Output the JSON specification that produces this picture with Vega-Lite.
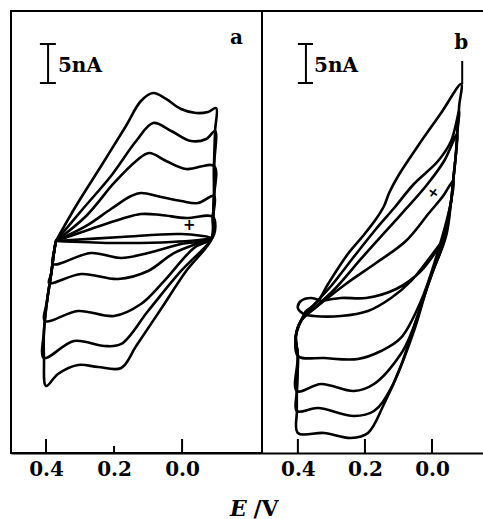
{
  "$schema": "https://vega.github.io/schema/vega-lite/v6.json",
  "padding": {"left": 10, "top": 10, "right": 0, "bottom": 0},
  "background": "white",
  "spacing": 0,
  "bounds": "flush",
  "config": {
    "view": {"stroke": "black", "strokeWidth": 2},
    "axis": {
      "grid": false, "ticks": false, "tickSize": 0, "labelPadding": 6,
      "labelFont": "DejaVu Serif", "labelFontWeight": "bold", "labelFontSize": 20, "labelColor": "black",
      "domainColor": "black", "domainWidth": 2,
      "titleFont": "DejaVu Serif", "titleFontWeight": "bold", "titleFontSize": 22, "titleColor": "black"
    }
  },
  "datasets": {
    "curvesA": [
      {"c":1,"o":1,"E":0.371,"I":26.92},{"c":1,"o":2,"E":0.312,"I":31.41},{"c":1,"o":3,"E":0.238,"I":36.54},{"c":1,"o":4,"E":0.165,"I":41.67},{"c":1,"o":5,"E":0.121,"I":44.87},{"c":1,"o":6,"E":0.085,"I":45.90},{"c":1,"o":7,"E":0.047,"I":45.13},{"c":1,"o":8,"E":0.003,"I":43.85},{"c":1,"o":9,"E":-0.041,"I":43.33},{"c":1,"o":10,"E":-0.076,"I":43.46},{"c":1,"o":11,"E":-0.100,"I":43.97},{"c":1,"o":12,"E":-0.097,"I":41.03},{"c":1,"o":13,"E":-0.094,"I":36.54},{"c":1,"o":14,"E":-0.094,"I":32.69},{"c":1,"o":15,"E":-0.091,"I":30.00},{"c":1,"o":16,"E":-0.088,"I":27.31},{"c":1,"o":17,"E":-0.012,"I":23.08},{"c":1,"o":18,"E":0.062,"I":18.21},{"c":1,"o":19,"E":0.135,"I":13.46},{"c":1,"o":20,"E":0.179,"I":10.64},{"c":1,"o":21,"E":0.247,"I":10.77},{"c":1,"o":22,"E":0.306,"I":11.03},{"c":1,"o":23,"E":0.365,"I":9.87},{"c":1,"o":24,"E":0.400,"I":8.33},{"c":1,"o":25,"E":0.406,"I":11.92},{"c":1,"o":26,"E":0.406,"I":15.38},{"c":1,"o":27,"E":0.397,"I":19.23},{"c":1,"o":28,"E":0.385,"I":22.69},{"c":1,"o":29,"E":0.376,"I":25.64},{"c":1,"o":30,"E":0.371,"I":26.92},
      {"c":2,"o":1,"E":0.371,"I":26.92},{"c":2,"o":2,"E":0.297,"I":30.77},{"c":2,"o":3,"E":0.209,"I":35.26},{"c":2,"o":4,"E":0.135,"I":39.74},{"c":2,"o":5,"E":0.085,"I":42.05},{"c":2,"o":6,"E":0.032,"I":41.03},{"c":2,"o":7,"E":-0.026,"I":39.74},{"c":2,"o":8,"E":-0.071,"I":40.00},{"c":2,"o":9,"E":-0.097,"I":41.03},{"c":2,"o":10,"E":-0.094,"I":36.54},{"c":2,"o":11,"E":-0.094,"I":32.69},{"c":2,"o":12,"E":-0.091,"I":30.00},{"c":2,"o":13,"E":-0.088,"I":27.31},{"c":2,"o":14,"E":-0.076,"I":26.54},{"c":2,"o":15,"E":0.003,"I":23.08},{"c":2,"o":16,"E":0.100,"I":17.95},{"c":2,"o":17,"E":0.179,"I":13.72},{"c":2,"o":18,"E":0.229,"I":13.46},{"c":2,"o":19,"E":0.318,"I":14.10},{"c":2,"o":20,"E":0.406,"I":11.92},{"c":2,"o":21,"E":0.406,"I":15.38},{"c":2,"o":22,"E":0.397,"I":19.23},{"c":2,"o":23,"E":0.385,"I":22.69},{"c":2,"o":24,"E":0.376,"I":25.64},{"c":2,"o":25,"E":0.371,"I":26.92},
      {"c":3,"o":1,"E":0.371,"I":26.92},{"c":3,"o":2,"E":0.282,"I":30.13},{"c":3,"o":3,"E":0.200,"I":34.36},{"c":3,"o":4,"E":0.135,"I":37.18},{"c":3,"o":5,"E":0.097,"I":38.21},{"c":3,"o":6,"E":0.047,"I":37.18},{"c":3,"o":7,"E":-0.012,"I":36.15},{"c":3,"o":8,"E":-0.094,"I":36.54},{"c":3,"o":9,"E":-0.094,"I":32.69},{"c":3,"o":10,"E":-0.091,"I":30.00},{"c":3,"o":11,"E":-0.088,"I":27.31},{"c":3,"o":12,"E":-0.035,"I":26.03},{"c":3,"o":13,"E":0.053,"I":21.79},{"c":3,"o":14,"E":0.121,"I":18.85},{"c":3,"o":15,"E":0.200,"I":17.31},{"c":3,"o":16,"E":0.306,"I":17.95},{"c":3,"o":17,"E":0.403,"I":16.67},{"c":3,"o":18,"E":0.397,"I":19.23},{"c":3,"o":19,"E":0.385,"I":22.69},{"c":3,"o":20,"E":0.376,"I":25.64},{"c":3,"o":21,"E":0.371,"I":26.92},
      {"c":4,"o":1,"E":0.371,"I":26.92},{"c":4,"o":2,"E":0.282,"I":28.85},{"c":4,"o":3,"E":0.209,"I":31.03},{"c":4,"o":4,"E":0.150,"I":32.69},{"c":4,"o":5,"E":0.121,"I":33.08},{"c":4,"o":6,"E":0.062,"I":32.56},{"c":4,"o":7,"E":0.003,"I":32.05},{"c":4,"o":8,"E":-0.047,"I":31.79},{"c":4,"o":9,"E":-0.094,"I":32.69},{"c":4,"o":10,"E":-0.091,"I":30.00},{"c":4,"o":11,"E":-0.088,"I":27.31},{"c":4,"o":12,"E":-0.065,"I":26.92},{"c":4,"o":13,"E":0.024,"I":25.38},{"c":4,"o":14,"E":0.100,"I":23.08},{"c":4,"o":15,"E":0.188,"I":22.05},{"c":4,"o":16,"E":0.297,"I":22.69},{"c":4,"o":17,"E":0.391,"I":21.54},{"c":4,"o":18,"E":0.385,"I":22.69},{"c":4,"o":19,"E":0.376,"I":25.64},{"c":4,"o":20,"E":0.371,"I":26.92},
      {"c":5,"o":1,"E":0.371,"I":26.92},{"c":5,"o":2,"E":0.268,"I":28.46},{"c":5,"o":3,"E":0.179,"I":29.74},{"c":5,"o":4,"E":0.121,"I":30.38},{"c":5,"o":5,"E":0.062,"I":30.26},{"c":5,"o":6,"E":-0.012,"I":29.87},{"c":5,"o":7,"E":-0.091,"I":30.00},{"c":5,"o":8,"E":-0.088,"I":27.31},{"c":5,"o":9,"E":0.003,"I":26.54},{"c":5,"o":10,"E":0.100,"I":25.38},{"c":5,"o":11,"E":0.179,"I":24.74},{"c":5,"o":12,"E":0.268,"I":25.38},{"c":5,"o":13,"E":0.379,"I":23.97},{"c":5,"o":14,"E":0.376,"I":25.64},{"c":5,"o":15,"E":0.371,"I":26.92},
      {"c":6,"o":1,"E":0.371,"I":26.92},{"c":6,"o":2,"E":0.179,"I":27.44},{"c":6,"o":3,"E":0.003,"I":27.82},{"c":6,"o":4,"E":-0.088,"I":27.31},{"c":6,"o":5,"E":0.032,"I":26.79},{"c":6,"o":6,"E":0.209,"I":26.67},{"c":6,"o":7,"E":0.371,"I":26.92}
    ],
    "curvesB": [
      {"c":1,"o":1,"E":0.376,"I":17.95},{"c":1,"o":2,"E":0.340,"I":19.23},{"c":1,"o":3,"E":0.310,"I":21.41},{"c":1,"o":4,"E":0.251,"I":25.26},{"c":1,"o":5,"E":0.206,"I":27.56},{"c":1,"o":6,"E":0.167,"I":29.74},{"c":1,"o":7,"E":0.143,"I":31.41},{"c":1,"o":8,"E":0.128,"I":33.08},{"c":1,"o":9,"E":0.101,"I":35.26},{"c":1,"o":10,"E":0.042,"I":39.10},{"c":1,"o":11,"E":-0.027,"I":43.33},{"c":1,"o":12,"E":-0.087,"I":47.05},{"c":1,"o":13,"E":-0.081,"I":44.23},{"c":1,"o":14,"E":-0.075,"I":40.64},{"c":1,"o":15,"E":-0.072,"I":38.46},{"c":1,"o":16,"E":-0.063,"I":34.62},{"c":1,"o":17,"E":-0.057,"I":32.05},{"c":1,"o":18,"E":-0.042,"I":27.56},{"c":1,"o":19,"E":0.003,"I":22.44},{"c":1,"o":20,"E":0.048,"I":16.67},{"c":1,"o":21,"E":0.093,"I":10.90},{"c":1,"o":22,"E":0.143,"I":6.03},{"c":1,"o":23,"E":0.191,"I":2.31},{"c":1,"o":24,"E":0.242,"I":1.67},{"c":1,"o":25,"E":0.322,"I":2.31},{"c":1,"o":26,"E":0.400,"I":2.31},{"c":1,"o":27,"E":0.403,"I":5.13},{"c":1,"o":28,"E":0.403,"I":7.69},{"c":1,"o":29,"E":0.400,"I":12.18},{"c":1,"o":30,"E":0.406,"I":14.74},{"c":1,"o":31,"E":0.391,"I":16.67},{"c":1,"o":32,"E":0.376,"I":17.95},
      {"c":2,"o":1,"E":0.376,"I":17.69},{"c":2,"o":2,"E":0.301,"I":21.15},{"c":2,"o":3,"E":0.236,"I":24.74},{"c":2,"o":4,"E":0.167,"I":28.46},{"c":2,"o":5,"E":0.113,"I":31.15},{"c":2,"o":6,"E":0.054,"I":34.23},{"c":2,"o":7,"E":-0.018,"I":37.18},{"c":2,"o":8,"E":-0.057,"I":39.74},{"c":2,"o":9,"E":-0.081,"I":43.59},{"c":2,"o":10,"E":-0.075,"I":40.64},{"c":2,"o":11,"E":-0.072,"I":38.46},{"c":2,"o":12,"E":-0.063,"I":34.62},{"c":2,"o":13,"E":-0.057,"I":32.05},{"c":2,"o":14,"E":-0.036,"I":26.92},{"c":2,"o":15,"E":0.009,"I":21.79},{"c":2,"o":16,"E":0.054,"I":15.38},{"c":2,"o":17,"E":0.122,"I":8.08},{"c":2,"o":18,"E":0.173,"I":5.13},{"c":2,"o":19,"E":0.233,"I":4.49},{"c":2,"o":20,"E":0.340,"I":5.51},{"c":2,"o":21,"E":0.403,"I":5.13},{"c":2,"o":22,"E":0.403,"I":7.69},{"c":2,"o":23,"E":0.400,"I":12.18},{"c":2,"o":24,"E":0.406,"I":14.74},{"c":2,"o":25,"E":0.391,"I":16.67},{"c":2,"o":26,"E":0.376,"I":17.69},
      {"c":3,"o":1,"E":0.361,"I":17.95},{"c":3,"o":2,"E":0.287,"I":20.90},{"c":3,"o":3,"E":0.212,"I":24.62},{"c":3,"o":4,"E":0.137,"I":28.21},{"c":3,"o":5,"E":0.078,"I":31.03},{"c":3,"o":6,"E":0.018,"I":33.97},{"c":3,"o":7,"E":-0.036,"I":37.18},{"c":3,"o":8,"E":-0.075,"I":40.64},{"c":3,"o":9,"E":-0.072,"I":38.46},{"c":3,"o":10,"E":-0.063,"I":34.62},{"c":3,"o":11,"E":-0.057,"I":32.05},{"c":3,"o":12,"E":-0.027,"I":26.28},{"c":3,"o":13,"E":0.018,"I":20.51},{"c":3,"o":14,"E":0.063,"I":15.00},{"c":3,"o":15,"E":0.093,"I":12.44},{"c":3,"o":16,"E":0.173,"I":8.59},{"c":3,"o":17,"E":0.233,"I":7.69},{"c":3,"o":18,"E":0.331,"I":8.59},{"c":3,"o":19,"E":0.403,"I":7.69},{"c":3,"o":20,"E":0.400,"I":12.18},{"c":3,"o":21,"E":0.406,"I":14.74},{"c":3,"o":22,"E":0.391,"I":16.67},{"c":3,"o":23,"E":0.361,"I":17.95},
      {"c":4,"o":1,"E":0.352,"I":18.21},{"c":4,"o":2,"E":0.257,"I":21.41},{"c":4,"o":3,"E":0.167,"I":24.10},{"c":4,"o":4,"E":0.078,"I":26.92},{"c":4,"o":5,"E":0.009,"I":30.51},{"c":4,"o":6,"E":-0.033,"I":32.69},{"c":4,"o":7,"E":-0.063,"I":34.62},{"c":4,"o":8,"E":-0.057,"I":32.05},{"c":4,"o":9,"E":-0.018,"I":25.64},{"c":4,"o":10,"E":0.033,"I":19.23},{"c":4,"o":11,"E":0.093,"I":14.49},{"c":4,"o":12,"E":0.152,"I":12.82},{"c":4,"o":13,"E":0.221,"I":11.79},{"c":4,"o":14,"E":0.322,"I":11.92},{"c":4,"o":15,"E":0.400,"I":12.18},{"c":4,"o":16,"E":0.406,"I":14.74},{"c":4,"o":17,"E":0.391,"I":16.67},{"c":4,"o":18,"E":0.352,"I":18.21},
      {"c":5,"o":1,"E":0.331,"I":19.23},{"c":5,"o":2,"E":0.361,"I":19.62},{"c":5,"o":3,"E":0.391,"I":19.23},{"c":5,"o":4,"E":0.400,"I":18.33},{"c":5,"o":5,"E":0.382,"I":17.56},{"c":5,"o":6,"E":0.352,"I":17.31},{"c":5,"o":7,"E":0.272,"I":17.31},{"c":5,"o":8,"E":0.191,"I":17.95},{"c":5,"o":9,"E":0.122,"I":19.62},{"c":5,"o":10,"E":0.063,"I":21.79},{"c":5,"o":11,"E":0.003,"I":25.00},{"c":5,"o":12,"E":-0.042,"I":27.56},{"c":5,"o":13,"E":0.033,"I":23.08},{"c":5,"o":14,"E":0.107,"I":20.77},{"c":5,"o":15,"E":0.197,"I":19.62},{"c":5,"o":16,"E":0.272,"I":19.62},{"c":5,"o":17,"E":0.331,"I":19.23}
    ]
  },
  "hconcat": [
    {
      "width": 251,
      "height": 442,
      "layer": [
        {
          "data": {"name": "curvesA"},
          "mark": {"type": "line", "color": "black", "strokeWidth": 2.6, "interpolate": "catmull-rom", "strokeJoin": "round"},
          "encoding": {
            "x": {"field": "E", "type": "quantitative",
                  "scale": {"domain": [-0.235, 0.503], "reverse": true, "nice": false, "zero": false},
                  "axis": {"values": [0.4, 0.2, 0], "format": ".1f", "title": "E", "titleX": 227, "titleY": 62, "titleBaseline": "alphabetic", "titleFontStyle": "italic", "titleAlign": "center", "titleAnchor": null}},
            "y": {"field": "I", "type": "quantitative", "scale": {"domain": [-0.256, 56.41], "nice": false, "zero": false}, "axis": null},
            "detail": {"field": "c"},
            "order": {"field": "o", "type": "quantitative"}
          }
        },
        {
          "data": {"values": [{"E": 0.4, "I": -0.256, "I2": 1.54}, {"E": 0.2, "I": -0.256, "I2": 0.64}, {"E": 0.0, "I": -0.256, "I2": 1.54}]},
          "mark": {"type": "rule", "color": "black", "strokeWidth": 2},
          "encoding": {"x": {"field": "E", "type": "quantitative"}, "y": {"field": "I", "type": "quantitative"}, "y2": {"field": "I2"}}
        },
        {
          "data": {"values": [{"E": 0.394, "I": 52.18, "I2": 47.18}]},
          "mark": {"type": "rule", "color": "black", "strokeWidth": 2},
          "encoding": {"x": {"field": "E", "type": "quantitative"}, "y": {"field": "I", "type": "quantitative"}, "y2": {"field": "I2"}}
        },
        {
          "data": {"values": [{"E": 0.418, "E2": 0.371, "I": 52.18}, {"E": 0.418, "E2": 0.371, "I": 47.18}]},
          "mark": {"type": "rule", "color": "black", "strokeWidth": 2},
          "encoding": {"x": {"field": "E", "type": "quantitative"}, "x2": {"field": "E2"}, "y": {"field": "I", "type": "quantitative"}}
        },
        {
          "data": {"values": [{"E": 0.365, "I": 49.42, "t": "5nA"}, {"E": -0.141, "I": 52.95, "t": "a"}]},
          "mark": {"type": "text", "align": "left", "baseline": "middle", "font": "DejaVu Serif", "fontWeight": "bold", "fontSize": 20, "color": "black"},
          "encoding": {"x": {"field": "E", "type": "quantitative"}, "y": {"field": "I", "type": "quantitative"}, "text": {"field": "t"}}
        },
        {
          "data": {"values": [{"E": -0.021, "I": 27.95, "t": "+"}]},
          "mark": {"type": "text", "align": "center", "baseline": "bottom", "font": "DejaVu Sans", "fontWeight": "bold", "fontSize": 15, "color": "black"},
          "encoding": {"x": {"field": "E", "type": "quantitative"}, "y": {"field": "I", "type": "quantitative"}, "text": {"field": "t"}}
        }
      ]
    },
    {
      "width": 222,
      "height": 442,
      "view": {"stroke": null},
      "layer": [
        {
          "data": {"name": "curvesB"},
          "mark": {"type": "line", "color": "black", "strokeWidth": 2.6, "interpolate": "catmull-rom", "strokeJoin": "round"},
          "encoding": {
            "x": {"field": "E", "type": "quantitative",
                  "scale": {"domain": [-0.155, 0.507], "reverse": true, "nice": false, "zero": false},
                  "axis": {"values": [0.4, 0.2, 0], "format": ".1f", "title": "/V", "titleX": -9, "titleY": 62, "titleBaseline": "alphabetic", "titleAlign": "left", "titleAnchor": null}},
            "y": {"field": "I", "type": "quantitative", "scale": {"domain": [-0.256, 56.41], "nice": false, "zero": false}, "axis": null},
            "detail": {"field": "c"},
            "order": {"field": "o", "type": "quantitative"}
          }
        },
        {
          "data": {"values": [{"I": 56.41}]},
          "mark": {"type": "rule", "color": "black", "strokeWidth": 2},
          "encoding": {"y": {"field": "I", "type": "quantitative"}}
        },
        {
          "data": {"values": [{"E": 0.4, "I": -0.256, "I2": 1.54}, {"E": 0.2, "I": -0.256, "I2": 1.54}, {"E": 0.0, "I": -0.256, "I2": 1.54}, {"E": 0.376, "I": 52.18, "I2": 47.18}, {"E": -0.090, "I": 50.0, "I2": 47.05}]},
          "mark": {"type": "rule", "color": "black", "strokeWidth": 2},
          "encoding": {"x": {"field": "E", "type": "quantitative"}, "y": {"field": "I", "type": "quantitative"}, "y2": {"field": "I2"}}
        },
        {
          "data": {"values": [{"E": 0.400, "E2": 0.355, "I": 52.18}, {"E": 0.400, "E2": 0.355, "I": 47.18}]},
          "mark": {"type": "rule", "color": "black", "strokeWidth": 2},
          "encoding": {"x": {"field": "E", "type": "quantitative"}, "x2": {"field": "E2"}, "y": {"field": "I", "type": "quantitative"}}
        },
        {
          "data": {"values": [{"E": 0.352, "I": 49.42, "t": "5nA"}, {"E": -0.066, "I": 52.3, "t": "b"}]},
          "mark": {"type": "text", "align": "left", "baseline": "middle", "font": "DejaVu Serif", "fontWeight": "bold", "fontSize": 20, "color": "black"},
          "encoding": {"x": {"field": "E", "type": "quantitative"}, "y": {"field": "I", "type": "quantitative"}, "text": {"field": "t"}}
        },
        {
          "data": {"values": [{"E": -0.003, "I": 33.08, "t": "+"}]},
          "mark": {"type": "text", "align": "center", "baseline": "middle", "angle": 35, "font": "DejaVu Sans", "fontWeight": "bold", "fontSize": 14, "color": "black"},
          "encoding": {"x": {"field": "E", "type": "quantitative"}, "y": {"field": "I", "type": "quantitative"}, "text": {"field": "t"}}
        }
      ]
    }
  ]
}
